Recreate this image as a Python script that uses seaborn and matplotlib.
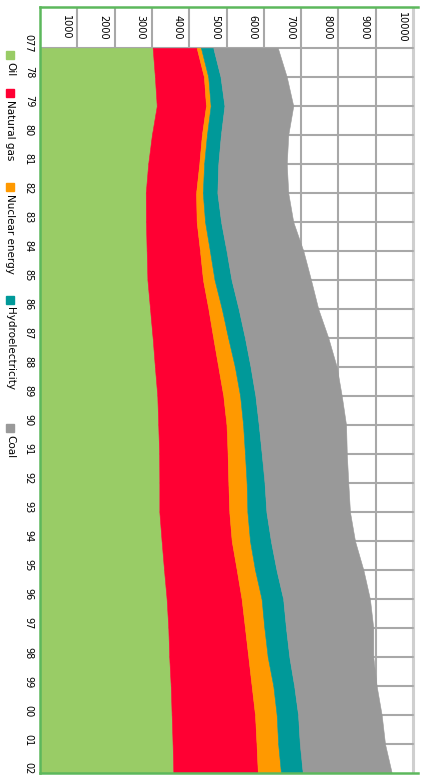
import numpy as np
import pandas as pd
import seaborn as sns
import matplotlib.pyplot as plt
from matplotlib.patches import Rectangle

# %% data (Mtoe)
years = ['077', '78', '79', '80', '81', '82', '83', '84', '85', '86', '87', '88', '89',
         '90', '91', '92', '93', '94', '95', '96', '97', '98', '99', '00', '01', '02']
oil = [3020, 3080, 3130, 3000, 2900, 2835, 2840, 2860, 2880, 2950, 3020, 3080, 3145,
       3170, 3195, 3200, 3200, 3260, 3325, 3395, 3440, 3465, 3505, 3530, 3555, 3575]
gas = [1180, 1315, 1320, 1340, 1370, 1350, 1360, 1430, 1490, 1565, 1625, 1700, 1770,
       1830, 1835, 1850, 1875, 1880, 1950, 2010, 2055, 2120, 2170, 2235, 2250, 2265]
nuclear = [115, 115, 125, 135, 130, 180, 225, 265, 310, 360, 400, 445, 450,
           445, 465, 490, 485, 490, 490, 535, 520, 520, 580, 580, 580, 620]
hydro = [330, 330, 370, 375, 380, 390, 430, 445, 455, 450, 450, 420, 410,
         420, 450, 480, 510, 560, 575, 580, 580, 580, 560, 575, 580, 585]
coal = [1730, 1775, 1845, 1805, 1835, 1900, 1935, 2060, 2130, 2135, 2235, 2310, 2315,
        2340, 2280, 2245, 2240, 2255, 2330, 2325, 2340, 2250, 2210, 2240, 2285, 2385]
tick_values = [1000, 2000, 3000, 4000, 5000, 6000, 7000, 8000, 9000, 10000]
labels = ['Oil', 'Natural gas', 'Nuclear energy', 'Hydroelectricity', 'Coal']

# %%
sns.set_style('white')
plt.rcParams['font.family'] = ['DejaVu Sans']
plt.rcParams['text.color'] = 'black'
colors = sns.color_palette(['#99cc66', '#ff0033', '#ff9900', '#009999', '#999999'])

df = pd.DataFrame({'Oil': oil, 'Natural gas': gas, 'Nuclear energy': nuclear,
                   'Hydroelectricity': hydro, 'Coal': coal})
pos = np.arange(len(years))
cum = df.cumsum(axis=1)

W, H = 426, 778
fig = plt.figure(figsize=(W / 100, H / 100), dpi=100)
ax = fig.add_axes([40 / W, 5 / H, 378 / W, 766 / H])
top = -1.41
ax.set_xlim(0, 10134)
ax.set_ylim(25, top)

# grid
for v in tick_values[:-1]:
    ax.plot([v, v], [top, 25], color='#a8a8a8', lw=1.5, zorder=1)
ax.plot([10000, 10000], [top, 25], color='#cfcfcf', lw=2.2, zorder=1)
for k in pos[:-1]:
    ax.plot([0, 10000], [k, k], color='#a8a8a8', lw=1.5, zorder=1)

# stacked areas (drawn sideways)
prev = np.zeros(len(pos))
for col, c in zip(df.columns, colors):
    ax.fill_betweenx(pos, prev, cum[col].values, color=c, lw=0.4, edgecolor=c, zorder=2)
    prev = cum[col].values

# value labels in the header row
for v in tick_values:
    ax.text(v - 300, -0.72, str(v), rotation=-90, ha='center', va='center',
            fontsize=7, color='black')

# year labels
for k, y in zip(pos, years):
    ax.text(-300, k - 0.15, y, rotation=-90, ha='center', va='center', fontsize=7,
            color='black', clip_on=False)

ax.set_xticks([])
ax.set_yticks([])
for s in ['left', 'top', 'bottom']:
    ax.spines[s].set_color('#5cb85c')
    ax.spines[s].set_linewidth(1.8)
ax.spines['right'].set_visible(False)

# legend, rotated like the rest
for lab, c, ypx in zip(labels, colors, [55, 93, 187, 300, 428]):
    fig.add_artist(Rectangle((6 / W, 1 - (ypx + 4) / H), 8 / W, 8 / H, color=c,
                             transform=fig.transFigure))
    fig.text(10 / W, 1 - (ypx + 7) / H, lab, rotation=-90, ha='center', va='top',
             fontsize=7.5, color='black')

plt.savefig('out.png', dpi=100)
